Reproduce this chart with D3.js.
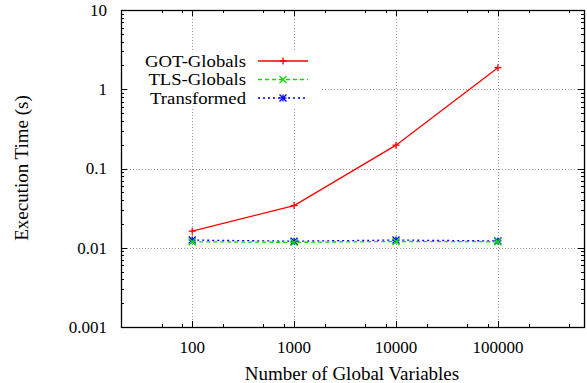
<!DOCTYPE html>
<html>
<head>
<meta charset="utf-8">
<script src="https://cdn.jsdelivr.net/npm/d3@7"></script>
<style>
  body { margin: 0; background: #fff; }
  svg { display: block; }
  text { font-family: "Times New Roman", "Liberation Serif", Times, "DejaVu Serif", serif; font-size: 19px; fill: #000; }
  text.num { font-size: 17px; }
  text.key { font-size: 16.7px; }
</style>
</head>
<body>
<svg id="chart" width="587" height="383"></svg>
<script>
const xValues = [100, 1000, 10000, 100000];
const gotGlobals = [0.0162, 0.0341, 0.197, 1.87];
const tlsGlobals = [0.0119, 0.0117, 0.0120, 0.0119];
const transformed = [0.0125, 0.0121, 0.0125, 0.0122];
const xTicks = [100, 1000, 10000, 100000];
const yTicks = [0.001, 0.01, 0.1, 1, 10];

const series = [
  { name: 'GOT-Globals', values: gotGlobals, color: '#ff0000', dash: null, marker: 'plus' },
  { name: 'TLS-Globals', values: tlsGlobals, color: '#00e000', dash: '4,3', marker: 'cross' },
  { name: 'Transformed', values: transformed, color: '#0000ff', dash: '2,3', marker: 'star' }
];

const m = { left: 121, right: 584, top: 10, bottom: 327 };
const svg = d3.select('#chart');

const x = d3.scaleLog().domain([20, 700000]).range([m.left, m.right]);
const y = d3.scaleLog().domain([0.001, 10]).range([m.bottom, m.top]);

// grid
const grid = svg.append('g')
  .attr('stroke', '#999').attr('stroke-width', 1).attr('stroke-dasharray', '1,2');
xTicks.forEach(t => {
  grid.append('line')
    .attr('x1', Math.round(x(t)) + 0.5).attr('x2', Math.round(x(t)) + 0.5)
    .attr('y1', m.top).attr('y2', m.bottom);
});
yTicks.filter(t => t > 0.001 && t < 10).forEach(t => {
  grid.append('line')
    .attr('y1', Math.round(y(t)) + 0.5).attr('y2', Math.round(y(t)) + 0.5)
    .attr('x1', m.left).attr('x2', m.right);
});

// key background hides the grid
svg.append('rect').attr('x', 130).attr('y', 52).attr('width', 190).attr('height', 56).attr('fill', '#fff');

// ticks
const ticks = svg.append('g').attr('stroke', '#000').attr('stroke-width', 1);
const xMinor = [];
for (let d = 10; d <= 1000000; d *= 10) [2, 5, 8].forEach(k => {
  const v = d * k;
  if (v > 20 && v < 700000) xMinor.push(v);
});
xMinor.forEach(v => {
  const px = Math.round(x(v)) + 0.5;
  ticks.append('line').attr('x1', px).attr('x2', px).attr('y1', m.bottom).attr('y2', m.bottom - 3);
  ticks.append('line').attr('x1', px).attr('x2', px).attr('y1', m.top).attr('y2', m.top + 3);
});
xTicks.forEach(v => {
  const px = Math.round(x(v)) + 0.5;
  ticks.append('line').attr('x1', px).attr('x2', px).attr('y1', m.bottom).attr('y2', m.bottom - 6);
  ticks.append('line').attr('x1', px).attr('x2', px).attr('y1', m.top).attr('y2', m.top + 6);
});
const yMinor = [];
for (let d = 0.001; d < 10; d *= 10) for (let k = 2; k <= 9; k++) yMinor.push(d * k);
yMinor.forEach(v => {
  const py = Math.round(y(v)) + 0.5;
  ticks.append('line').attr('x1', m.left).attr('x2', m.left + 3).attr('y1', py).attr('y2', py);
  ticks.append('line').attr('x1', m.right).attr('x2', m.right - 3).attr('y1', py).attr('y2', py);
});
yTicks.forEach(v => {
  const py = Math.round(y(v)) + 0.5;
  ticks.append('line').attr('x1', m.left).attr('x2', m.left + 6).attr('y1', py).attr('y2', py);
  ticks.append('line').attr('x1', m.right).attr('x2', m.right - 6).attr('y1', py).attr('y2', py);
});

// frame
svg.append('rect')
  .attr('x', m.left + 0.5).attr('y', m.top + 0.5)
  .attr('width', m.right - m.left).attr('height', m.bottom - m.top)
  .attr('fill', 'none').attr('stroke', '#000').attr('stroke-width', 1.3);

// tick labels
svg.append('g').selectAll('text').data(yTicks).join('text')
  .attr('class', 'num')
  .attr('x', 107).attr('y', d => y(d)).attr('dy', '0.35em')
  .attr('text-anchor', 'end').text(d => String(d));
svg.append('g').selectAll('text').data(xTicks).join('text')
  .attr('class', 'num')
  .attr('x', d => x(d)).attr('y', 353)
  .attr('text-anchor', 'middle').text(d => String(d));

// axis titles
svg.append('text').attr('x', 352).attr('y', 380).attr('text-anchor', 'middle')
  .text('Number of Global Variables');
svg.append('text').attr('transform', 'translate(28,168) rotate(-90)').attr('text-anchor', 'middle')
  .text('Execution Time (s)');

function marker(g, type, cx, cy, color) {
  const s = 3.5;
  const p = g.append('g').attr('stroke', color).attr('stroke-width', 1.3).attr('fill', 'none');
  if (type === 'plus' || type === 'star') {
    p.append('line').attr('x1', cx - s).attr('x2', cx + s).attr('y1', cy).attr('y2', cy);
    p.append('line').attr('x1', cx).attr('x2', cx).attr('y1', cy - s).attr('y2', cy + s);
  }
  if (type === 'cross' || type === 'star') {
    p.append('line').attr('x1', cx - s).attr('x2', cx + s).attr('y1', cy - s).attr('y2', cy + s);
    p.append('line').attr('x1', cx - s).attr('x2', cx + s).attr('y1', cy + s).attr('y2', cy - s);
  }
}

const line = d3.line().x(d => x(d[0])).y(d => y(d[1]));
const plot = svg.append('g');
series.slice().reverse().forEach(s => {
  const pts = xValues.map((v, i) => [v, s.values[i]]);
  plot.append('path').datum(pts).attr('d', line)
    .attr('fill', 'none').attr('stroke', s.color).attr('stroke-width', 1.3)
    .attr('stroke-dasharray', s.dash);
  pts.forEach(p => marker(plot, s.marker, x(p[0]), y(p[1]), s.color));
});

// key
const key = svg.append('g');
series.forEach((s, i) => {
  const ky = 61 + i * 18.5;
  const t = key.append('text').attr('class', 'key')
    .attr('x', 246).attr('y', ky).attr('dy', '0.35em')
    .attr('text-anchor', 'end').text(s.name);
  // stretch a bit wider, the reference face is wider than Liberation Serif
  const w = t.node().getComputedTextLength();
  t.attr('textLength', w * 1.12).attr('lengthAdjust', 'spacingAndGlyphs');
  key.append('line').attr('x1', 258).attr('x2', 308).attr('y1', ky).attr('y2', ky)
    .attr('stroke', s.color).attr('stroke-width', 1.3).attr('stroke-dasharray', s.dash);
  marker(key, s.marker, 283, ky, s.color);
});
</script>
</body>
</html>
